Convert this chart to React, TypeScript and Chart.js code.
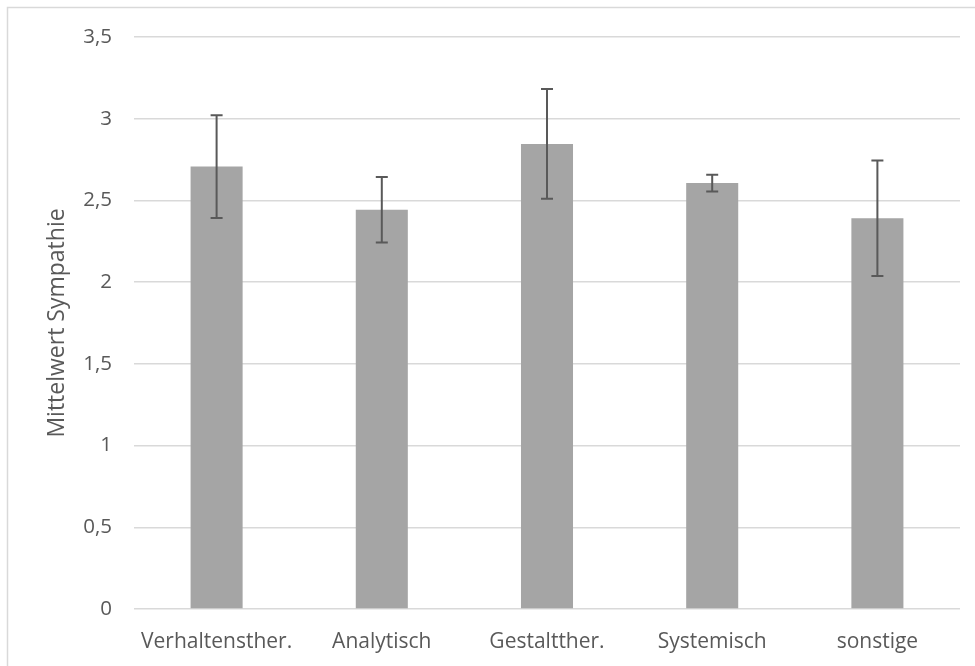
import React, { useEffect, useRef } from "react";
import { Chart, registerables } from "chart.js";

Chart.register(...registerables);

const categories = ["Verhaltensther.", "Analytisch", "Gestaltther.", "Systemisch", "sonstige"];
const means = [2.707, 2.443, 2.846, 2.606, 2.391];
const errors = [0.314, 0.2, 0.336, 0.051, 0.353];
const yTicks = [0, 0.5, 1, 1.5, 2, 2.5, 3, 3.5];
const yTitle = "Mittelwert Sympathie";

const FONT = "'Open Sans', sans-serif";
const TEXT = "#595959";
const GRID = "#d9d9d9";

const borderPlugin = {
  id: "outerBorder",
  beforeDraw(chart: any) {
    const ctx = chart.ctx;
    ctx.save();
    ctx.fillStyle = "#ffffff";
    ctx.fillRect(0, 0, chart.width, chart.height);
    ctx.strokeStyle = GRID;
    ctx.lineWidth = 1.5;
    ctx.strokeRect(7.5, 7.5, chart.width + 20, chart.height + 20);
    ctx.restore();
  },
};

const errorBarPlugin = {
  id: "errorBars",
  afterDatasetsDraw(chart: any) {
    const ctx = chart.ctx;
    const meta = chart.getDatasetMeta(0);
    const y = chart.scales.y;
    ctx.save();
    ctx.strokeStyle = TEXT;
    ctx.lineWidth = 2;
    meta.data.forEach((bar: any, i: number) => {
      const x = bar.x;
      const top = y.getPixelForValue(means[i] + errors[i]);
      const bot = y.getPixelForValue(means[i] - errors[i]);
      ctx.beginPath();
      ctx.moveTo(x, top);
      ctx.lineTo(x, bot);
      ctx.moveTo(x - 6, top);
      ctx.lineTo(x + 6, top);
      ctx.moveTo(x - 6, bot);
      ctx.lineTo(x + 6, bot);
      ctx.stroke();
    });
    ctx.restore();
  },
};

export default function App() {
  const ref = useRef<HTMLCanvasElement | null>(null);
  useEffect(() => {
    if (!ref.current) return;
    const chart = new Chart(ref.current, {
      type: "bar",
      data: {
        labels: categories,
        datasets: [
          {
            data: means,
            backgroundColor: "#a5a5a5",
            borderWidth: 0,
            barPercentage: 0.315,
            categoryPercentage: 1,
          },
        ],
      },
      options: {
        responsive: false,
        animation: false,
        layout: { padding: { left: 0, top: 37, right: 15, bottom: 0 } },
        plugins: { legend: { display: false }, tooltip: { enabled: false } },
        scales: {
          x: {
            grid: { display: false },
            border: { display: false },
            ticks: { color: TEXT, font: { family: FONT, size: 21 }, padding: 12, maxRotation: 0 },
            afterFit: (s: any) => {
              s.height = 57;
            },
          },
          y: {
            min: 0,
            max: 3.5,
            afterBuildTicks: (s: any) => {
              s.ticks = yTicks.map((v) => ({ value: v }));
            },
            grid: { color: GRID, lineWidth: 1.5, drawTicks: false },
            border: { display: false },
            ticks: {
              color: TEXT,
              font: { family: FONT, size: 20.5 },
              padding: 22,
              callback: (v: any) => String(v).replace(".", ","),
            },
            title: {
              display: true,
              text: yTitle,
              color: TEXT,
              font: { family: FONT, size: 23 },
              padding: { top: 44, bottom: 0 },
            },
            afterFit: (s: any) => {
              s.width = 134;
            },
          },
        },
      },
      plugins: [borderPlugin, errorBarPlugin],
    });
    return () => chart.destroy();
  }, []);
  return (
    <div style={{ position: "fixed", left: 0, top: 0, width: 975, height: 666, background: "#fff" }}>
      <canvas ref={ref} width={975} height={666} style={{ display: "block" }} />
    </div>
  );
}
